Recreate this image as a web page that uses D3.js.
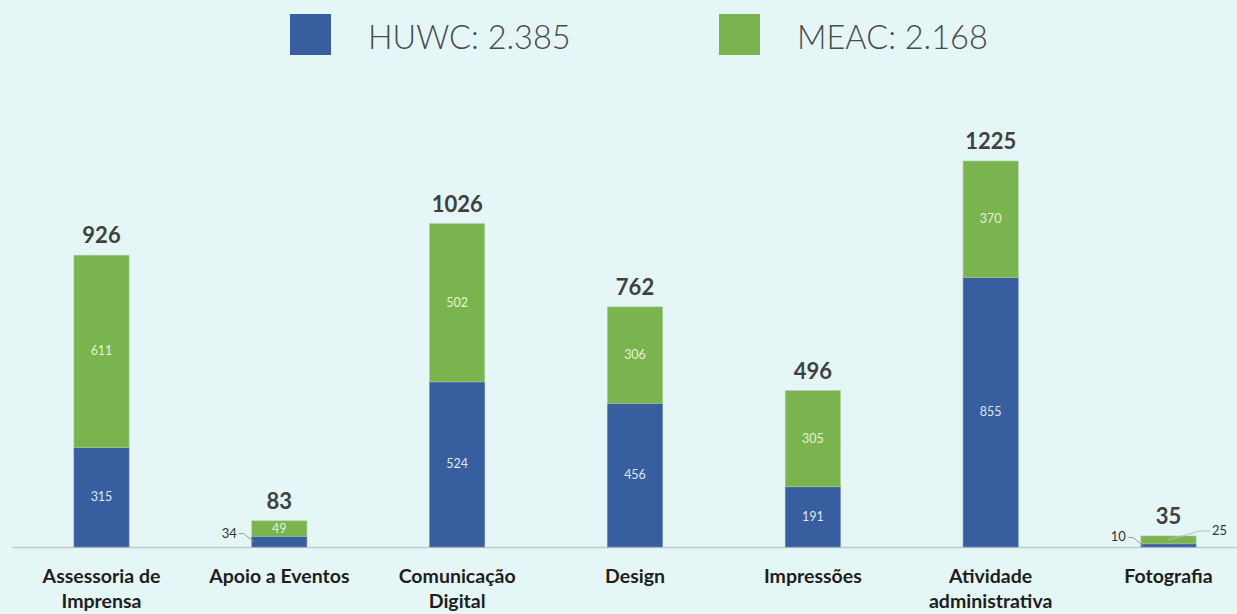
<!DOCTYPE html>
<html>
<head>
  <meta charset="utf-8">
  <script src="https://cdn.jsdelivr.net/npm/d3@7"></script>
  <style type="text/css">
    html, body {
      margin: 0;
      padding: 0;
      background: #e5f6f6;
    }
    svg {
      display: block;
    }
    .legend text {
      font-family: Lato, "Open Sans", sans-serif;
      font-weight: 300;
      fill: #4a4a4a;
    }
    .cat {
      font-family: Lato, "Liberation Sans", sans-serif;
      font-weight: 700;
      font-size: 19.5px;
      fill: #1e1e1e;
    }
    .total {
      font-family: Lato, "Liberation Sans", sans-serif;
      font-weight: 700;
      font-size: 22px;
      fill: #404040;
    }
    .seg {
      font-family: Lato, "Liberation Sans", sans-serif;
      font-size: 12.5px;
    }
  </style>
</head>
<body>
  <svg id="chart"></svg>
  <script type="text/javascript">

  const categories = [
    ["Assessoria de", "Imprensa"],
    ["Apoio a Eventos"],
    ["Comunicação", "Digital"],
    ["Design"],
    ["Impressões"],
    ["Atividade", "administrativa"],
    ["Fotografia"]
  ];
  const huwc = [315, 34, 524, 456, 191, 855, 10];
  const meac = [611, 49, 502, 306, 305, 370, 25];
  const totals = [926, 83, 1026, 762, 496, 1225, 35];
  const seriesNames = ["HUWC: 2.385", "MEAC: 2.168"];
  const colors = ["#375e9f", "#7ab44f"];
  const labelColors = ["#dfe7f3", "#e3f2d3"];

  const width = 1237, height = 614;
  const baseY = 547;

  const svg = d3.select('#chart')
    .attr('width', width)
    .attr('height', height);

  const x = d3.scaleBand()
    .domain(d3.range(categories.length))
    .range([12.6, 1257.4])
    .paddingInner(0.69)
    .paddingOuter(0.345);

  const y = d3.scaleLinear()
    .domain([0, 1225])
    .range([baseY, 161]);

  // legend
  const legend = svg.append('g').attr('class', 'legend');
  const legendX = [290, 719];
  seriesNames.forEach((name, i) => {
    legend.append('rect')
      .attr('x', legendX[i]).attr('y', 14)
      .attr('width', 41).attr('height', 41)
      .attr('fill', colors[i]);
    legend.append('text')
      .attr('x', legendX[i] + 78).attr('y', 49)
      .attr('font-size', 32.5)
      .text(name);
  });

  // axis line
  svg.append('line')
    .attr('x1', 12).attr('x2', width)
    .attr('y1', baseY + 0.5).attr('y2', baseY + 0.5)
    .attr('stroke', '#c4c9cb')
    .attr('stroke-width', 1.5);

  const stacked = d3.stack().keys([0, 1])(huwc.map((h, i) => [h, meac[i]]));

  const g = svg.append('g');
  stacked.forEach((layer, s) => {
    g.selectAll(null).data(layer).enter().append('rect')
      .attr('x', (d, i) => x(i))
      .attr('width', x.bandwidth())
      .attr('y', d => y(d[1]))
      .attr('height', d => y(d[0]) - y(d[1]))
      .attr('fill', colors[s])
      .attr('stroke', s === 1 ? '#a9c995' : '#6f86b4')
      .attr('stroke-width', 0.6);
  });

  // segment labels
  stacked.forEach((layer, s) => {
    layer.forEach((d, i) => {
      const val = d[1] - d[0];
      const h = y(d[0]) - y(d[1]);
      const cy = (y(d[0]) + y(d[1])) / 2;
      if (h >= 12) {
        svg.append('text').attr('class', 'seg')
          .attr('x', x(i) + x.bandwidth() / 2)
          .attr('y', cy + 4)
          .attr('text-anchor', 'middle')
          .attr('fill', labelColors[s])
          .text(val);
      } else if (s === 0) {
        // callout to the left
        const lx = x(i) - 13;
        svg.append('text').attr('class', 'seg')
          .attr('x', lx - 2).attr('y', cy - 4)
          .attr('text-anchor', 'end')
          .attr('fill', '#333')
          .style('font-size', '13px')
          .text(val);
        svg.append('polyline')
          .attr('points', `${lx},${cy - 8} ${lx + 5},${cy - 8} ${x(i) + 2},${cy}`)
          .attr('fill', 'none').attr('stroke', '#9a9a9a').attr('stroke-width', 1);
      } else {
        // callout to the right
        const lx = x(i) + x.bandwidth() + 14;
        svg.append('text').attr('class', 'seg')
          .attr('x', lx + 2).attr('y', cy - 5)
          .attr('text-anchor', 'start')
          .attr('fill', '#333')
          .style('font-size', '13px')
          .text(val);
        svg.append('polyline')
          .attr('points', `${x(i) + x.bandwidth() / 2},${cy} ${lx - 10},${cy - 9} ${lx},${cy - 9}`)
          .attr('fill', 'none').attr('stroke', '#bcbcbc').attr('stroke-width', 1);
      }
    });
  });

  // totals
  svg.selectAll('text.total').data(totals).enter().append('text')
    .attr('class', 'total')
    .attr('x', (d, i) => x(i) + x.bandwidth() / 2)
    .attr('y', d => y(d) - 12)
    .attr('text-anchor', 'middle')
    .text(d => d);

  // category labels
  categories.forEach((lines, i) => {
    const t = svg.append('text').attr('class', 'cat')
      .attr('x', x(i) + x.bandwidth() / 2)
      .attr('y', 583)
      .attr('text-anchor', 'middle');
    lines.forEach((ln, j) => {
      t.append('tspan')
        .attr('x', x(i) + x.bandwidth() / 2)
        .attr('dy', j === 0 ? 0 : 25)
        .text(ln);
    });
  });
  </script>
</body>
</html>
